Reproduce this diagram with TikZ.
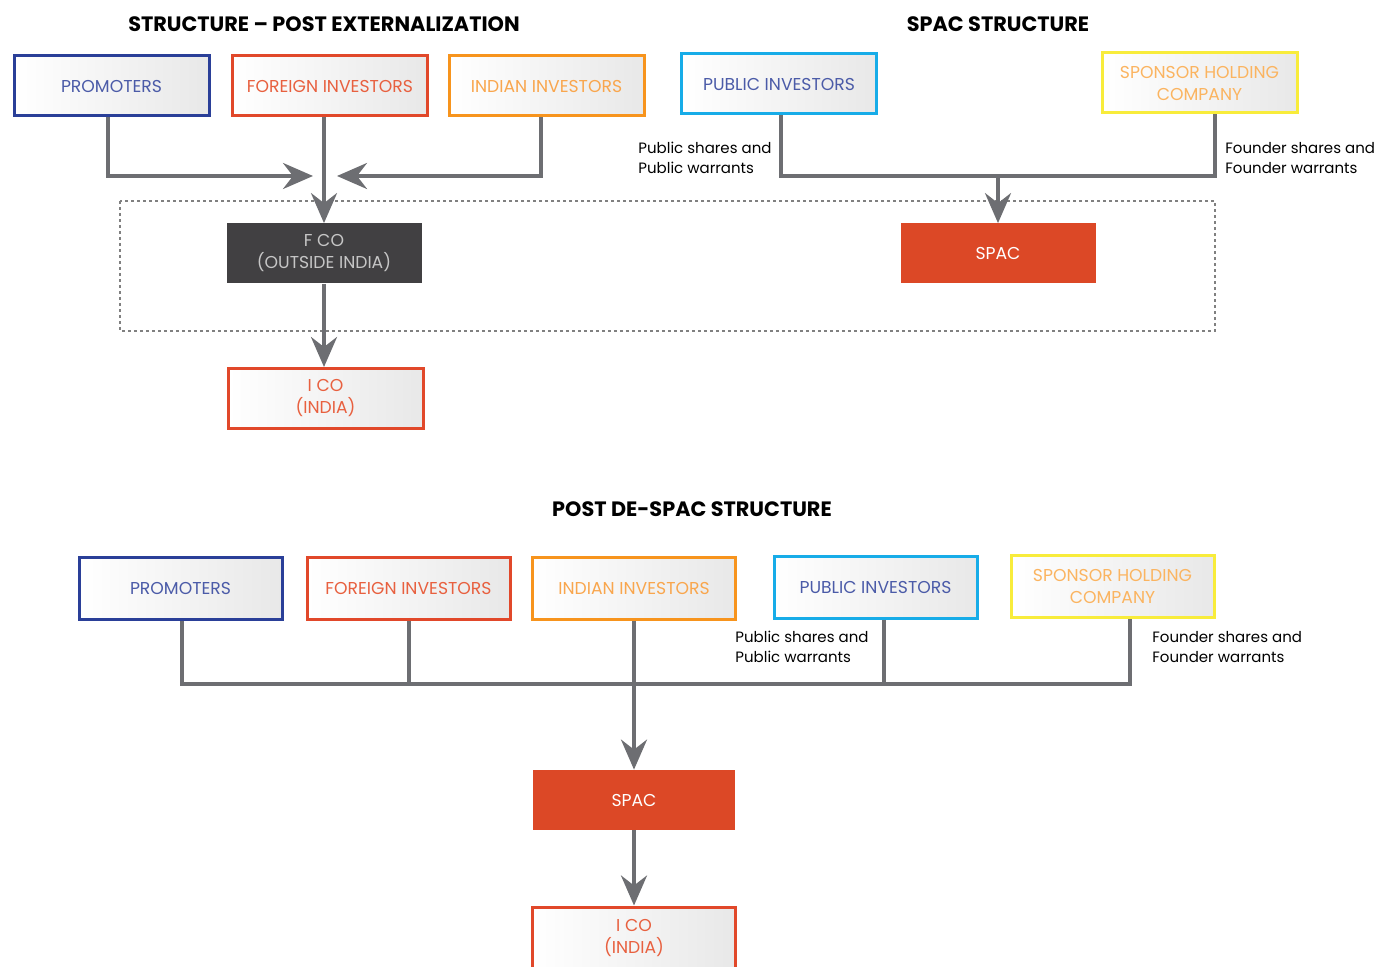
\documentclass[tikz,border=0pt]{standalone}
\usepackage{fontspec}
\setmainfont{Poppins}
\usetikzlibrary{arrows.meta}
\usetikzlibrary{positioning}

\definecolor{promblue}{HTML}{2A3F98}
\definecolor{promtext}{HTML}{4B5BA8}
\definecolor{forred}{HTML}{E1482A}
\definecolor{fortext}{HTML}{E8603F}
\definecolor{indorange}{HTML}{F7941D}
\definecolor{indtext}{HTML}{F9A64D}
\definecolor{pubcyan}{HTML}{17ACE8}
\definecolor{sponyellow}{HTML}{F8EC3B}
\definecolor{spontext}{HTML}{FBB460}
\definecolor{arrgray}{HTML}{6D6E72}
\definecolor{fcodark}{HTML}{414042}
\definecolor{spacred}{HTML}{DC4826}

\tikzset{
  box/.style={rectangle,line width=1.5pt,left color=white,right color=gray!18,
    minimum width=97.5pt,minimum height=30pt,inner sep=0pt,align=center,
    font=\fontsize{8.6pt}{11pt}\selectfont},
  bigbox/.style={box,minimum width=101.5pt,minimum height=31pt},
  solidbox/.style={rectangle,minimum width=97.5pt,minimum height=30pt,inner sep=0pt,
    align=center,text=white,font=\fontsize{8.6pt}{11pt}\selectfont},
  title/.style={font=\fontsize{10.4pt}{12pt}\selectfont\bfseries},
  note/.style={align=left,anchor=north west,inner sep=0pt,
    font=\fontsize{7.5pt}{10pt}\selectfont},
  link/.style={draw=arrgray,line width=2pt},
  arr/.style={link,-{Stealth[length=15pt,width=13pt,inset=5pt]}}
}

\begin{document}
\begin{tikzpicture}[x=0.5pt,y=-0.5pt]
\useasboundingbox (0,0) rectangle (1375,967);

% titles
\node[title] (t1) at (324,24) {STRUCTURE -- POST EXTERNALIZATION};
\node[title] (t2) at (998,24) {SPAC STRUCTURE};
\node[title] (t3) at (692,509) {POST DE-SPAC STRUCTURE};

% structure - post externalization
\draw[gray,line width=0.6pt,dash pattern=on 1.5pt off 1.5pt] (120,201) rectangle (1215,331);

\node[box,draw=promblue,text=promtext] (prom) at (111.5,86) {PROMOTERS};
\node[box,draw=forred,text=fortext] (fori) at (330,86) {FOREIGN INVESTORS};
\node[box,draw=indorange,text=indtext] (indi) at (546.5,86) {INDIAN INVESTORS};
\node[solidbox,fill=fcodark,text=gray!45] (fco) at (324,253.5) {F CO\\(OUTSIDE INDIA)};
\node[box,draw=forred,text=fortext] (ico) at (325.5,398.5) {I CO\\(INDIA)};

\coordinate (mergeL) at (313,176);
\coordinate (mergeR) at (337,176);
\draw[arr] (prom.south -| 108,0) |- (mergeL);
\draw[arr] (indi.south -| 541,0) |- (mergeR);
\draw[arr] (fco.north |- fori.south) -- (fco.north);
\draw[arr] (fco.south) -- (fco.south |- ico.north);

% spac structure
\node[box,draw=pubcyan,text=promtext] (pub) at (779,84) {PUBLIC INVESTORS};
\node[box,draw=sponyellow,text=spontext] (spon) at (1199.5,83) {SPONSOR HOLDING\\COMPANY};
\node[solidbox,fill=spacred] (spac) at (998,253.5) {SPAC};

\coordinate (busR) at (998,176);
\draw[link] (pub.south -| 781,0) |- (busR) -| (spon.south -| 1215,0);
\draw[arr] (busR) -- (spac.north);

\node[note] (pubnote) at (638,142) {Public shares and\\Public warrants};
\node[note] (sponnote) at (1225,142) {Founder shares and\\Founder warrants};

% post de-spac structure
\node[bigbox,draw=promblue,text=promtext] (bprom) at (180.5,588) {PROMOTERS};
\node[bigbox,draw=forred,text=fortext] (bfori) at (408.5,588) {FOREIGN INVESTORS};
\node[bigbox,draw=indorange,text=indtext] (bindi) at (634,588) {INDIAN INVESTORS};
\node[bigbox,draw=pubcyan,text=promtext] (bpub) at (875.5,587) {PUBLIC INVESTORS};
\node[bigbox,draw=sponyellow,text=spontext] (bspon) at (1112.5,586) {SPONSOR HOLDING\\COMPANY};
\node[solidbox,fill=spacred,minimum width=101pt] (bspac) at (634,800) {SPAC};
\node[bigbox,draw=forred,text=fortext] (bico) at (634,938) {I CO\\(INDIA)};

\coordinate (bus) at (634,684);
\draw[link] (bprom.south -| 182,0) |- (bus) -| (bspon.south -| 1130,0);
\draw[link] (bfori.south) -- (bfori.south |- bus);
\draw[link] (bpub.south -| 884,0) -- (884,684);
\draw[arr] (bindi.south) -- (bspac.north);
\draw[arr] (bspac.south) -- (bico.north);

\node[note] (bpubnote) at (735,631) {Public shares and\\Public warrants};
\node[note] (bsponnote) at (1152,631) {Founder shares and\\Founder warrants};

\end{tikzpicture}
\end{document}
